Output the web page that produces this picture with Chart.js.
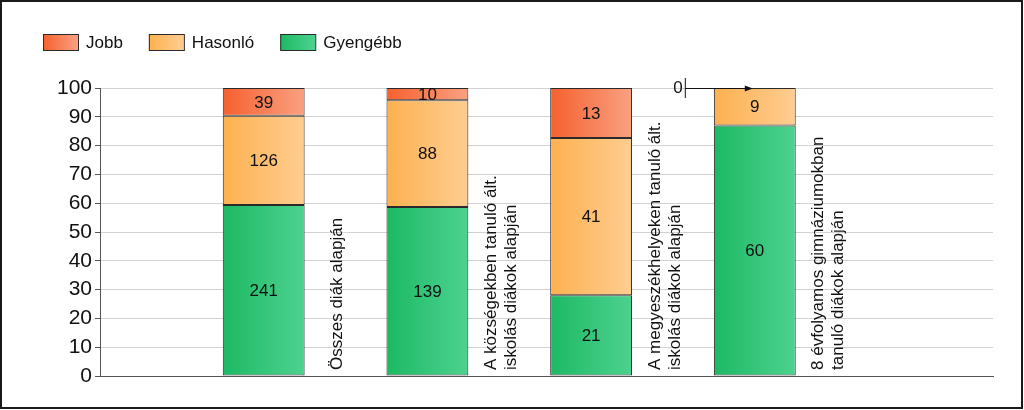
<!DOCTYPE html>
<html>
<head>
<meta charset="utf-8">
<script src="https://cdn.jsdelivr.net/npm/chart.js@4.4.1/dist/chart.umd.min.js"></script>
<style>
  html, body { margin: 0; padding: 0; background: #fff; }
  #wrap { width: 1024px; height: 410px; }
</style>
</head>
<body>
<div id="wrap"><canvas id="chart" width="1024" height="410"></canvas></div>
<script>
// categories (each one is split in lines, drawn vertically next to its bar)
var categories = [
  ['Összes diák alapján'],
  ['A községekben tanuló ált.', 'iskolás diákok alapján'],
  ['A megyeszékhelyeken tanuló ált.', 'iskolás diákok alapján'],
  ['8 évfolyamos gimnáziumokban', 'tanuló diákok alapján']
];
var seriesNames = ['Jobb', 'Hasonló', 'Gyengébb'];
var jobb = [39, 10, 13, 0];
var hasonlo = [126, 88, 41, 9];
var gyengebb = [241, 139, 21, 60];
var yTicks = [0, 10, 20, 30, 40, 50, 60, 70, 80, 90, 100];

// left / right colour of the gradient for each series
var gradColors = [
  ['#f6602f', '#f9a181'],
  ['#fdb14f', '#fecd92'],
  ['#1db964', '#4dd28f']
];

var totals = jobb.map((v, i) => v + hasonlo[i] + gyengebb[i]);
var pct = arr => arr.map((v, i) => ({ x: i + 1, y: v / totals[i] * 100, raw: v }));

var FONT = '"Liberation Sans", Arial, sans-serif';

var barGradient = (chart, i, cols) => {
  const xs = chart.scales.x;
  if (!xs) return cols[0];
  const cx = xs.getPixelForValue(i + 1);
  const half = (xs.getPixelForValue(1) - xs.getPixelForValue(0)) / 4;
  if (!isFinite(cx) || !isFinite(half) || half <= 0) return cols[0];
  const g = chart.ctx.createLinearGradient(cx - half, 0, cx + half, 0);
  g.addColorStop(0, cols[0]);
  g.addColorStop(1, cols[1]);
  return g;
};

var makeSet = (name, arr, k) => ({
  label: name,
  data: pct(arr),
  backgroundColor: c => barGradient(c.chart, c.dataIndex, gradColors[k]),
  borderColor: '#2a2a2a',
  borderWidth: 1,
  borderSkipped: false,
  stack: 's'
});

// order bottom -> top : Gyengébb, Hasonló, Jobb
var datasets = [
  makeSet(seriesNames[2], gyengebb, 2),
  makeSet(seriesNames[1], hasonlo, 1),
  makeSet(seriesNames[0], jobb, 0)
];

var extras = {
  id: 'extras',
  afterDatasetsDraw(chart) {
    const ctx = chart.ctx;
    const xs = chart.scales.x;
    const area = chart.chartArea;
    ctx.save();
    // value labels
    ctx.font = '17px ' + FONT;
    ctx.fillStyle = '#111';
    ctx.textBaseline = 'middle';
    chart.data.datasets.forEach((ds, d) => {
      const meta = chart.getDatasetMeta(d);
      meta.data.forEach((bar, i) => {
        const raw = ds.data[i].raw;
        const cx = bar.x;
        if (raw === 0) {
          const y = bar.y;
          ctx.textAlign = 'right';
          ctx.fillText('0', cx - 72, y);
          ctx.strokeStyle = '#111';
          ctx.lineWidth = 1;
          ctx.beginPath();
          ctx.moveTo(cx - 69.5, y - 10);
          ctx.lineTo(cx - 69.5, y + 10);
          ctx.moveTo(cx - 69.5, y + 0.5);
          ctx.lineTo(cx - 3, y + 0.5);
          ctx.stroke();
          ctx.beginPath();
          ctx.moveTo(cx - 2, y + 0.5);
          ctx.lineTo(cx - 10, y - 2.5);
          ctx.lineTo(cx - 10, y + 3.5);
          ctx.closePath();
          ctx.fill();
        } else {
          ctx.textAlign = 'center';
          ctx.fillText(String(raw), cx, (bar.y + bar.base) / 2 + 1);
        }
      });
    });
    // category labels, vertical, right of each bar
    ctx.textAlign = 'left';
    const step = xs.getPixelForValue(1) - xs.getPixelForValue(0);
    categories.forEach((lines, i) => {
      const x = xs.getPixelForValue(i + 1) + step / 4 + 33;
      ctx.save();
      ctx.translate(x, area.bottom - 6);
      ctx.rotate(-Math.PI / 2);
      lines.forEach((t, j) => {
        ctx.fillText(t, 0, (j - (lines.length - 1) / 2) * 20);
      });
      ctx.restore();
    });
    ctx.restore();
  },
  afterDraw(chart) {
    const ctx = chart.ctx;
    ctx.save();
    // legend
    ctx.font = '17px ' + FONT;
    ctx.textBaseline = 'middle';
    ctx.textAlign = 'left';
    let x = 43;
    const y = 34;
    seriesNames.forEach((n, k) => {
      const g = ctx.createLinearGradient(x, 0, x + 35, 0);
      g.addColorStop(0, gradColors[k][0]);
      g.addColorStop(1, gradColors[k][1]);
      ctx.fillStyle = g;
      ctx.fillRect(x, y, 35, 16);
      ctx.strokeStyle = '#2a2a2a';
      ctx.lineWidth = 1;
      ctx.strokeRect(x + 0.5, y + 0.5, 35, 16);
      ctx.fillStyle = '#111';
      ctx.fillText(n, x + 43, y + 9);
      x += 43 + ctx.measureText(n).width + 26;
    });
    // outer frame
    ctx.strokeStyle = '#1a1a1a';
    ctx.lineWidth = 2;
    ctx.strokeRect(1, 1, chart.width - 3, chart.height - 3);
    ctx.restore();
  }
};

new Chart(document.getElementById('chart'), {
  type: 'bar',
  data: { datasets: datasets },
  options: {
    responsive: false,
    animation: false,
    events: [],
    layout: { padding: { left: 0, right: 31, top: 88, bottom: 34 } },
    datasets: { bar: { barPercentage: 0.5, categoryPercentage: 1 } },
    plugins: { legend: { display: false }, tooltip: { enabled: false } },
    scales: {
      x: {
        type: 'linear',
        stacked: true,
        offset: false,
        min: 0,
        max: 5.455,
        afterBuildTicks: s => { s.ticks = categories.map((c, i) => ({ value: i + 1 })); },
        afterFit: s => { s.height = 0; },
        ticks: { display: false },
        grid: { display: false, offset: false },
        border: { color: '#555', width: 1 }
      },
      y: {
        stacked: true,
        min: 0,
        max: 100,
        afterBuildTicks: s => { s.ticks = yTicks.map(v => ({ value: v })); },
        afterFit: s => { s.width = 100; },
        ticks: { color: '#111', font: { size: 21, family: FONT }, padding: 3 },
        grid: { color: '#d2d2d2', tickColor: '#555', tickLength: 5 },
        border: { color: '#555', width: 1 }
      }
    }
  },
  plugins: [extras]
});
</script>
</body>
</html>
